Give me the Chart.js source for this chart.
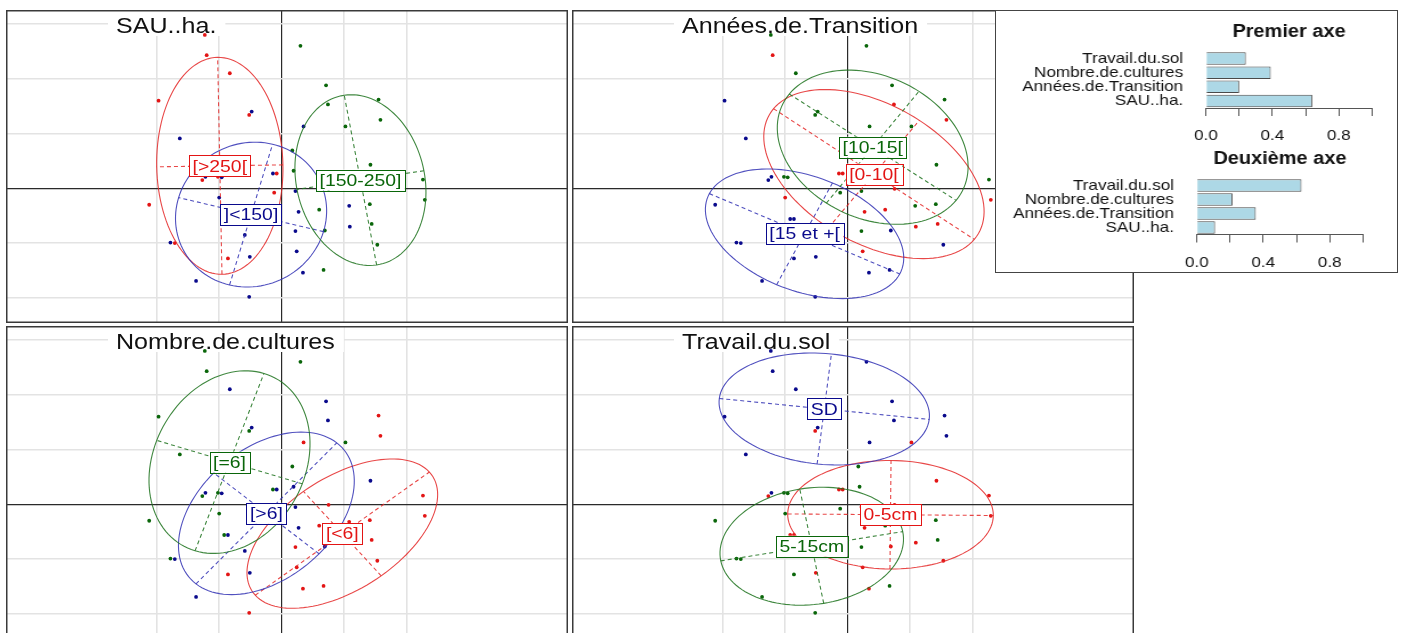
<!DOCTYPE html>
<html>
<head>
<meta charset="utf-8">
<script src="https://cdn.jsdelivr.net/npm/chart.js@4.4.1/dist/chart.umd.min.js"></script>
<style>
  body { margin: 0; width: 1403px; height: 633px; overflow: hidden; background: #fff; position: relative; }
  canvas { position: absolute; }
  #inset { position: absolute; left: 995px; top: 10px; width: 403px; height: 263px; box-sizing: border-box;
           border: 1.5px solid #444; background: #fff; z-index: 2; }
  .bar { transform: scaleX(1.14); transform-origin: 0 0; z-index: 3; }
</style>
</head>
<body>
<canvas id="p1" width="562" height="313" style="left:6px;top:10px"></canvas>
<canvas id="p2" width="562" height="313" style="left:572px;top:10px"></canvas>
<canvas id="p3" width="562" height="313" style="left:6px;top:326px"></canvas>
<canvas id="p4" width="562" height="313" style="left:572px;top:326px"></canvas>
<div id="inset"></div>
<canvas id="b1" class="bar" width="342" height="134" style="left:1000px;top:14px"></canvas>
<canvas id="b2" class="bar" width="342" height="135" style="left:1000px;top:140px"></canvas>
<script>
// individual scores on the two first axes (same in every panel)
const scoreX = [-1.23,-1.20,-0.83,0.30,0.71,0.74,1.55,1.58,0.35,-1.97,-0.48,-0.52,-1.63,1.02,0.17,1.42,2.26,2.29,0.19,-0.14,
  -0.08,-1.27,-1.22,-1.02,-0.96,-0.12,-1.00,-2.12,0.27,0.60,1.41,1.44,1.09,0.69,0.22,1.53,0.24,-0.86,-0.51,-0.92,
  -0.86,-1.78,-1.71,-1.37,-0.52,0.34,0.67,0.22,1.08,-0.59,0.75];
const scoreY = [2.80,2.43,2.10,2.60,1.88,1.53,1.62,1.25,1.13,1.60,1.40,1.34,0.91,1.13,0.69,0.43,0.16,-0.21,0.32,0.27,
  0.27,0.15,0.21,0.21,0.20,-0.08,-0.17,-0.30,-0.43,-0.39,-0.29,-0.65,-0.70,-0.77,-0.78,-1.03,-1.15,-1.28,-1.25,-0.56,
  -0.56,-0.99,-1.00,-1.69,-1.98,-1.54,-1.49,-0.05,-0.32,-0.85,-0.01];

// factor levels (order: red, blue, green) and class of each individual
const sauLevels = ['[>250[', ']<150]', '[150-250]'];
const sauClass = [0,0,0,2,2,2,2,2,1,0,1,0,1,2,2,2,2,2,2,1,0,0,1,0,1,0,1,0,1,2,2,2,1,2,1,2,1,0,1,0,1,1,0,1,1,1,2,1,1,1,2];
const anneesLevels = ['[0-10[', '[15 et +[', '[10-15['];
const anneesClass = [2,0,2,2,2,0,2,0,2,1,2,2,1,2,2,2,2,0,0,0,0,1,1,2,2,2,0,1,0,0,2,0,0,1,2,1,0,1,1,1,1,1,1,1,1,1,1,2,2,1,0];
const nombreLevels = ['[<6]', '[>6]', '[=6]'];
const nombreClass = [2,2,1,2,1,1,0,0,0,2,1,2,2,2,2,1,0,0,1,2,1,2,1,2,1,1,2,2,1,0,0,0,0,1,0,0,0,0,1,2,1,2,1,1,0,0,0,1,0,1,0];
const travailLevels = ['0-5cm', 'SD', '5-15cm'];
const travailClass = [1,1,1,1,1,1,1,1,1,1,1,0,1,0,2,0,0,0,2,0,0,0,1,2,2,2,2,2,0,2,2,2,0,0,2,0,0,2,0,0,0,2,2,2,2,0,2,0,0,2,0];

// class ellipses: [centre x, centre y, semi-axis 1, semi-axis 2, angle of axis 1 (deg)]
const sauEllipses = [[-0.99, 0.41, 1.98, 1.01, 91], [-0.49, -0.48, 1.33, 1.20, 75], [1.26, 0.15, 1.57, 1.03, 99.5]];
const anneesEllipses = [[0.42, 0.26, 2.00, 1.22, -36.6], [-0.69, -0.83, 1.69, 1.03, -25.7], [0.40, 0.75, 1.65, 1.26, -36]];
const nombreEllipses = [[0.97, -0.535, 1.79, 0.99, 38.9], [-0.245, -0.165, 1.71, 1.12, 48.8], [-0.835, 0.77, 1.71, 1.23, 71.2]];
const travailEllipses = [[0.685, -0.19, 1.645, 0.99, -0.5], [-0.375, 1.74, 1.69, 1.01, -6.5], [-0.575, -0.765, 1.48, 1.06, 10.4]];

// inset: weight of each variable on the axes
const axisVariables = ['Travail.du.sol', 'Nombre.de.cultures', 'Années.de.Transition', 'SAU..ha.'];
const premierAxe = [0.24, 0.39, 0.20, 0.64];
const deuxiemeAxe = [0.63, 0.215, 0.355, 0.11];
const barTickLabels = [0, 0.4, 0.8];

const FONT = "'Liberation Sans', Arial, sans-serif";
Chart.defaults.font.family = FONT;
const pointCols = ['#e31515', '#0a0a8c', '#0a660a'];
const lineCols = ['rgba(228,40,40,0.85)', 'rgba(50,50,180,0.85)', 'rgba(30,115,30,0.85)'];
const STRETCH = 1.14;

function stretchedText(ctx, text, x, y, align) {
  const w = ctx.measureText(text).width * STRETCH;
  const x0 = align === 'center' ? x - w / 2 : x;
  ctx.save();
  ctx.translate(x0, y);
  ctx.scale(STRETCH, 1);
  ctx.fillText(text, 0, 0);
  ctx.restore();
  return w;
}

const panelPlugin = {
  id: 'panel',
  beforeDatasetsDraw(chart, args, opts) {
    const ctx = chart.ctx;
    ctx.save();
    ctx.font = '22px ' + FONT;
    const w = ctx.measureText(opts.title).width * STRETCH;
    ctx.fillStyle = '#fff';
    ctx.fillRect(102, 1, w + 17, 25);
    ctx.fillStyle = '#111';
    ctx.textBaseline = 'alphabetic';
    stretchedText(ctx, opts.title, 110, 22.5, 'left');
    ctx.restore();
  },
  afterDatasetsDraw(chart, args, opts) {
    const ctx = chart.ctx, xs = chart.scales.x, ys = chart.scales.y;
    const px = (x, y) => [xs.getPixelForValue(x), ys.getPixelForValue(y)];
    ctx.save();
    opts.ellipses.forEach((e, k) => {
      const [cx, cy, a, b, ang] = e;
      const t = ang * Math.PI / 180, c = Math.cos(t), s = Math.sin(t);
      ctx.strokeStyle = lineCols[k];
      ctx.lineWidth = 1.1;
      ctx.setLineDash([]);
      ctx.beginPath();
      for (let i = 0; i <= 120; i++) {
        const u = i / 120 * 2 * Math.PI;
        const p = px(cx + a * Math.cos(u) * c - b * Math.sin(u) * s, cy + a * Math.cos(u) * s + b * Math.sin(u) * c);
        i ? ctx.lineTo(p[0], p[1]) : ctx.moveTo(p[0], p[1]);
      }
      ctx.stroke();
      ctx.setLineDash([4, 3]);
      ctx.beginPath();
      let p = px(cx - a * c, cy - a * s); ctx.moveTo(p[0], p[1]);
      p = px(cx + a * c, cy + a * s); ctx.lineTo(p[0], p[1]);
      p = px(cx + b * s, cy - b * c); ctx.moveTo(p[0], p[1]);
      p = px(cx - b * s, cy + b * c); ctx.lineTo(p[0], p[1]);
      ctx.stroke();
    });
    ctx.setLineDash([]);
    ctx.font = '17px ' + FONT;
    ctx.textBaseline = 'middle';
    opts.ellipses.forEach((e, k) => {
      const [x, y] = px(e[0], e[1]);
      const w = ctx.measureText(opts.levels[k]).width * STRETCH + 7;
      ctx.fillStyle = '#fff';
      ctx.fillRect(x - w / 2, y - 10.5, w, 21);
      ctx.strokeStyle = pointCols[k];
      ctx.lineWidth = 1;
      ctx.strokeRect(Math.round(x - w / 2) + 0.5, Math.round(y - 10.5) + 0.5, Math.round(w), 21);
      ctx.fillStyle = pointCols[k];
      stretchedText(ctx, opts.levels[k], x, y + 1, 'center');
    });
    ctx.restore();
  },
  afterDraw(chart) {
    const ctx = chart.ctx;
    ctx.save();
    ctx.strokeStyle = '#3a3a3a';
    ctx.lineWidth = 1.5;
    ctx.strokeRect(0.75, 0.75, chart.width - 1.5, chart.height - 1.5);
    ctx.restore();
  }
};

function gridColor(c) {
  const v = c.tick.value;
  if (Math.abs(v - Math.round(v)) > 1e-6) return 'rgba(0,0,0,0)';
  if (Math.round(v) === 0) return '#2a2a2a';
  return c.scale.axis === 'x' && Math.abs(v) > 2 ? 'rgba(0,0,0,0)' : '#e3e3e3';
}

function drawPanel(id, title, levels, classes, ellipses) {
  const datasets = levels.map((lv, k) => ({
    label: lv,
    data: scoreX.map((x, i) => ({ x: x, y: scoreY[i], g: classes[i] })).filter(p => p.g === k),
    backgroundColor: pointCols[k],
    borderColor: pointCols[k],
    pointRadius: 1.9,
    pointBorderWidth: 0
  }));
  new Chart(document.getElementById(id), {
    type: 'scatter',
    data: { datasets: datasets },
    options: {
      responsive: false,
      animation: false,
      layout: { padding: 0, autoPadding: false },
      plugins: {
        legend: { display: false },
        tooltip: { enabled: false },
        panel: { title: title, levels: levels, ellipses: ellipses }
      },
      scales: {
        x: {
          type: 'linear', min: -4.411, max: 4.581,
          afterFit: s => { s.height = 0; },
          ticks: { display: false, stepSize: 1 },
          border: { display: false },
          grid: { drawTicks: false, color: gridColor, lineWidth: c => Math.round(c.tick.value) === 0 ? 1.2 : 1.6 }
        },
        y: {
          type: 'linear', min: -2.458, max: 3.254,
          afterFit: s => { s.width = 0; },
          ticks: { display: false, stepSize: 1 },
          border: { display: false },
          grid: { drawTicks: false, color: gridColor, lineWidth: c => Math.round(c.tick.value) === 0 ? 1.2 : 1.6 }
        }
      }
    },
    plugins: [panelPlugin]
  });
}

drawPanel('p1', 'SAU..ha.', sauLevels, sauClass, sauEllipses);
drawPanel('p2', 'Années.de.Transition', anneesLevels, anneesClass, anneesEllipses);
drawPanel('p3', 'Nombre.de.cultures', nombreLevels, nombreClass, nombreEllipses);
drawPanel('p4', 'Travail.du.sol', travailLevels, travailClass, travailEllipses);

const barTitle = {
  id: 'barTitle',
  afterDraw(chart, args, opts) {
    const ctx = chart.ctx, a = chart.chartArea;
    ctx.save();
    ctx.font = 'bold 17.5px ' + FONT;
    ctx.fillStyle = '#111';
    ctx.textAlign = 'center';
    ctx.textBaseline = 'middle';
    ctx.fillText(opts.text, (a.left + a.right) / 2, opts.y);
    ctx.restore();
  }
};

function drawBars(id, values, title, titleY, yWidth, pad) {
  new Chart(document.getElementById(id), {
    type: 'bar',
    data: {
      labels: axisVariables,
      datasets: [{
        data: values,
        backgroundColor: '#add8e6',
        borderColor: '#4a4a4a',
        borderWidth: 1,
        barPercentage: 0.88,
        categoryPercentage: 1
      }]
    },
    options: {
      indexAxis: 'y',
      responsive: false,
      animation: false,
      layout: { padding: pad, autoPadding: false },
      plugins: { legend: { display: false }, tooltip: { enabled: false }, barTitle: { text: title, y: titleY } },
      scales: {
        x: {
          min: 0, max: 1,
          afterFit: s => { s.height = pad.bottomAxis; },
          border: { display: true, color: '#555', width: 1 },
          grid: { drawOnChartArea: false, drawTicks: true, tickLength: 8, color: '#555' },
          ticks: {
            stepSize: 0.2, autoSkip: false, maxRotation: 0, padding: 11, color: '#111',
            font: { size: 15 },
            callback: v => barTickLabels.some(t => Math.abs(t - v) < 1e-6) ? v.toFixed(1) : ''
          }
        },
        y: {
          afterFit: s => { s.width = yWidth; },
          border: { display: false },
          grid: { display: false, drawTicks: false },
          ticks: { padding: 20, color: '#111', font: { size: 15, lineHeight: 1 }, autoSkip: false }
        }
      }
    },
    plugins: [barTitle]
  });
}

drawBars('b1', premierAxe, 'Premier axe', 17.7, 180.7, { top: 37.5, right: 15.7, left: 0, bottom: 0, bottomAxis: 40 });
drawBars('b2', deuxiemeAxe, 'Deuxième axe', 19, 172.6, { top: 38.5, right: 23.6, left: 0, bottom: 0, bottomAxis: 40.5 });
</script>
</body>
</html>
